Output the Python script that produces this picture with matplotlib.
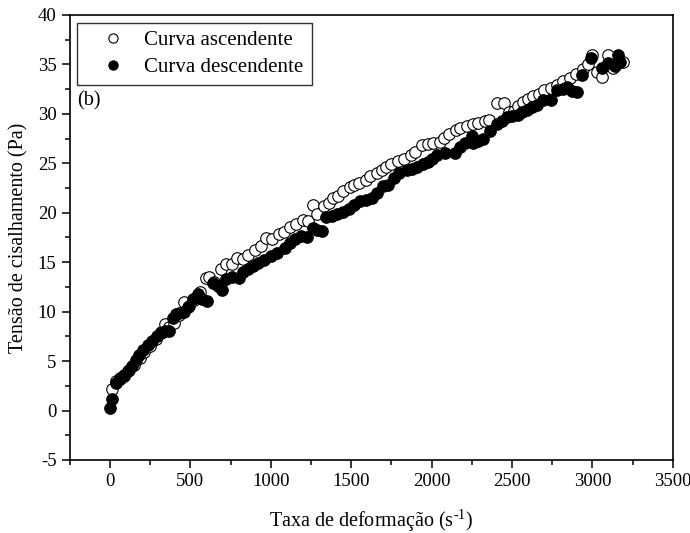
import matplotlib
matplotlib.use('Agg')
import matplotlib.pyplot as plt
from matplotlib.ticker import MultipleLocator

plt.rcParams['font.family'] = ['Liberation Serif', 'DejaVu Serif']
plt.rcParams['mathtext.fontset'] = 'custom'
plt.rcParams['mathtext.rm'] = 'Liberation Serif'
plt.rcParams['axes.unicode_minus'] = False

# Curva ascendente (circulos abertos)
asc_x = [10, 35, 60, 90, 120, 150, 185, 215, 250, 285, 320, 340, 370, 400, 430, 460, 490,
         520, 560, 595, 615, 650, 690, 720, 760, 790, 830, 860, 900, 940, 970, 1010, 1050,
         1080, 1120, 1160, 1200, 1230, 1265, 1290, 1330, 1360, 1390, 1420, 1450, 1490, 1520,
         1550, 1590, 1620, 1660, 1690, 1720, 1750, 1790, 1830, 1870, 1900, 1940, 1980, 2010,
         2050, 2080, 2110, 2150, 2180, 2220, 2260, 2290, 2330, 2360, 2410, 2450, 2480, 2510,
         2540, 2570, 2600, 2630, 2670, 2700, 2740, 2780, 2820, 2860, 2900, 2940, 2970, 3000,
         3030, 3060, 3100, 3130, 3160, 3190]
asc_y = [2.2, 3.0, 3.3, 3.6, 4.1, 4.6, 5.3, 5.9, 6.5, 7.2, 7.9, 8.7, 8.4, 8.8, 9.7, 11.0, 10.6,
         11.2, 12.0, 13.4, 13.5, 13.0, 14.3, 14.8, 14.8, 15.4, 15.3, 15.7, 16.2, 16.6, 17.4, 17.3, 17.8,
         18.1, 18.6, 18.9, 19.3, 19.2, 20.8, 19.9, 20.7, 21.0, 21.5, 21.7, 22.2, 22.6, 22.8,
         23.0, 23.3, 23.7, 24.0, 24.3, 24.6, 24.9, 25.2, 25.4, 25.8, 26.1, 26.8, 26.9, 27.0,
         27.2, 27.6, 28.0, 28.4, 28.6, 28.8, 29.0, 29.1, 29.3, 29.4, 31.1, 31.1, 30.2, 30.3,
         30.8, 31.2, 31.5, 31.8, 32.0, 32.4, 32.6, 32.9, 33.3, 33.6, 34.0, 34.5, 35.0, 35.9,
         34.2, 33.7, 35.9, 34.6, 35.1, 35.2]

# Curva descendente (circulos cheios)
desc_x = [0, 10, 40, 65, 90, 110, 140, 160, 180, 205, 235, 260, 290, 315, 340, 365, 390, 410,
          430, 460, 485, 515, 545, 575, 605, 640, 670, 700, 720, 760, 800, 830, 860, 890, 920,
          960, 1000, 1040, 1090, 1120, 1150, 1190, 1225, 1260, 1290, 1320, 1345, 1380, 1415,
          1450, 1485, 1520, 1555, 1590, 1630, 1660, 1700, 1730, 1765, 1800, 1845, 1880, 1910,
          1945, 1975, 2005, 2035, 2085, 2145, 2175, 2210, 2250, 2260, 2290, 2320, 2365, 2405,
          2440, 2470, 2500, 2535, 2565, 2595, 2625, 2655, 2695, 2740, 2780, 2815, 2845, 2875,
          2905, 2935, 2990, 3060, 3100, 3140, 3160, 3175]
desc_y = [0.3, 1.2, 2.8, 3.2, 3.5, 4.0, 4.5, 5.1, 5.6, 6.1, 6.6, 7.0, 7.5, 7.8, 8.0, 8.0, 9.4, 9.8,
          9.9, 10.0, 10.5, 11.3, 11.8, 11.3, 11.1, 12.9, 12.6, 12.2, 13.3, 13.5, 13.4, 14.0, 14.3, 14.6, 14.9,
          15.2, 15.6, 15.9, 16.4, 16.9, 17.3, 17.6, 17.5, 18.5, 18.3, 18.2, 19.6, 19.7, 19.9,
          20.1, 20.4, 20.8, 21.2, 21.3, 21.5, 22.0, 22.7, 22.8, 23.5, 24.0, 24.3, 24.4, 24.6,
          24.9, 25.1, 25.4, 25.8, 26.0, 26.0, 26.6, 27.0, 27.8, 27.1, 27.3, 27.5, 28.3, 29.0,
          29.3, 29.7, 29.8, 29.9, 30.2, 30.4, 30.7, 30.9, 31.4, 31.4, 32.4, 32.5, 32.7, 32.3,
          32.2, 33.9, 35.6, 34.6, 35.1, 34.8, 35.9, 35.2]

fig = plt.figure(figsize=(6.9, 5.33), dpi=100)
ax = fig.add_axes([0.101, 0.137, 0.874, 0.835])

ax.plot(asc_x, asc_y, 'o', ms=8.3, mfc='white', mec='black', mew=0.8, label='Curva ascendente')
ax.plot(desc_x, desc_y, 'o', ms=8.3, mfc='black', mec='black', mew=0.8, label='Curva descendente')

ax.set_xlim(-250, 3500)
ax.set_ylim(-5, 40)
ax.xaxis.set_major_locator(MultipleLocator(500))
ax.xaxis.set_minor_locator(MultipleLocator(250))
ax.yaxis.set_major_locator(MultipleLocator(5))
ax.yaxis.set_minor_locator(MultipleLocator(2.5))
ax.tick_params(which='major', direction='out', length=6, width=1.1, labelsize=13.5)
ax.tick_params(which='minor', direction='out', length=3.5, width=1.1)
for s in ax.spines.values():
    s.set_linewidth(1.2)

ax.set_xlabel('Taxa de deformação (s$^{\\mathrm{\u2010}1}$)', fontsize=14.5, labelpad=12)
ax.set_ylabel('Tensão de cisalhamento (Pa)', fontsize=14.5, labelpad=7)
ax.text(0.012, 0.807, '(b)', transform=ax.transAxes, fontsize=14.5, va='center', ha='left')

leg = ax.legend(loc='upper left', bbox_to_anchor=(0.0124, 0.982), borderaxespad=0,
                fontsize=15, frameon=True, fancybox=False, edgecolor='black',
                handletextpad=0.15, borderpad=0.38, labelspacing=0.35, handlelength=2.7,
                markerscale=0.8)
leg.get_frame().set_linewidth(1.0)

fig.savefig('out.png', dpi=100)
